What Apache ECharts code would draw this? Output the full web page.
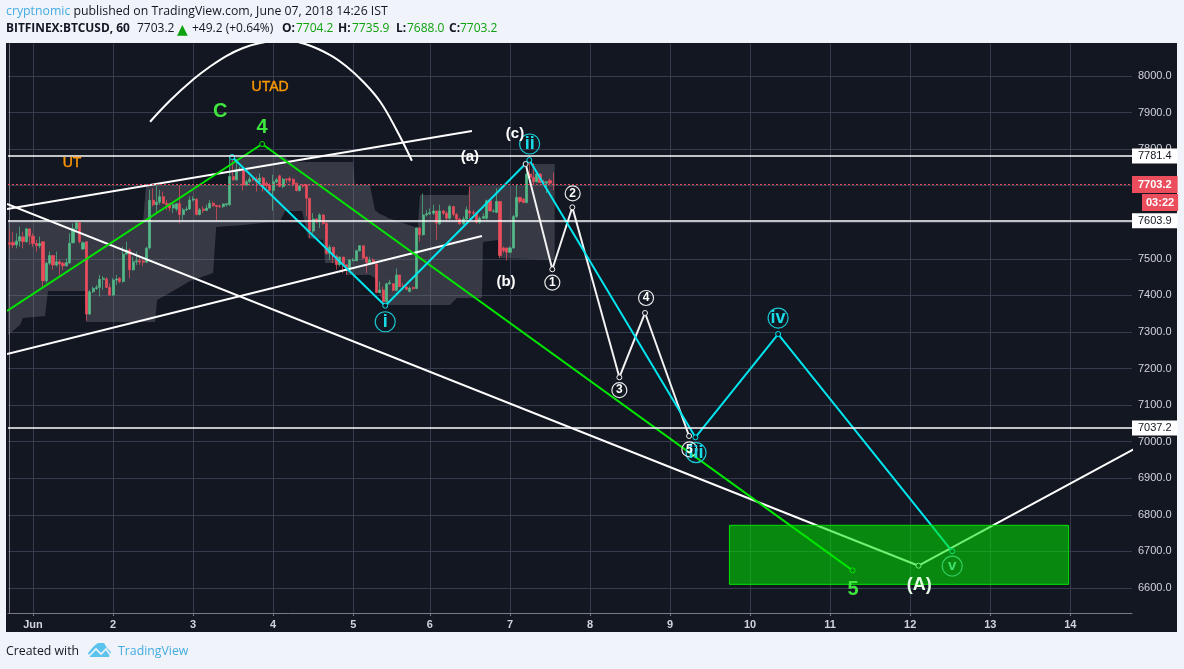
<!DOCTYPE html>
<html><head><meta charset="utf-8">
<style>
html,body{margin:0;padding:0;background:#f0f3fa;width:1184px;height:669px;overflow:hidden}
#panel{position:absolute;left:6px;top:43px;width:1171px;height:589px;background:#131722}
#c{position:absolute;left:0;top:0;width:1184px;height:669px}
</style>
<script src="https://cdn.jsdelivr.net/npm/echarts@6/dist/echarts.min.js"></script>
</head><body><div id="panel"></div><div id="c"></div>
<script>
// Candles, hourly: [open, close, low, high]
const ohlc = [
[7544,7540,7529,7579],[7545,7538,7529,7574],[7538,7549,7529,7570],[7549,7561,7533,7588],[7560,7547,7529,7574],
[7547,7582,7544,7583],[7582,7562,7538,7583],[7562,7542,7533,7570],[7542,7536,7520,7551],[7536,7542,7529,7561],
[7547,7440,7420,7547],[7440,7488,7433,7492],[7488,7509,7483,7520],[7509,7483,7470,7511],[7483,7492,7479,7520],
[7492,7486,7456,7497],[7488,7481,7470,7492],[7481,7490,7479,7501],[7489,7543,7486,7570],[7544,7582,7542,7597],
[7582,7599,7578,7602],[7599,7547,7542,7600],[7527,7544,7524,7548],[7547,7349,7331,7548],[7349,7410,7347,7415],
[7410,7419,7406,7424],[7419,7422,7415,7429],[7422,7444,7397,7456],[7444,7447,7415,7453],[7445,7422,7420,7450],
[7422,7401,7399,7433],[7401,7442,7399,7447],[7442,7445,7429,7456],[7447,7438,7433,7450],[7438,7513,7435,7533],
[7513,7524,7510,7547],[7524,7470,7447,7529],[7470,7492,7468,7506],[7492,7495,7483,7520],[7495,7491,7483,7501],
[7494,7491,7480,7499],[7491,7529,7488,7533],[7530,7660,7526,7689],[7660,7648,7643,7693],[7648,7655,7625,7702],
[7655,7670,7648,7689],[7670,7652,7650,7684],[7652,7648,7634,7661],[7651,7639,7630,7652],[7639,7648,7625,7652],
[7636,7651,7630,7652],[7651,7621,7596,7702],[7621,7634,7607,7639],[7634,7636,7630,7643],[7636,7661,7634,7671],
[7661,7664,7657,7671],[7663,7621,7619,7666],[7621,7634,7619,7639],[7636,7632,7625,7643],[7632,7639,7631,7648],
[7639,7652,7637,7661],[7652,7645,7643,7657],[7646,7643,7605,7648],[7645,7643,7639,7648],[7643,7650,7639,7652],
[7648,7651,7643,7652],[7648,7725,7645,7780],[7725,7716,7714,7780],[7716,7743,7714,7771],[7743,7745,7739,7752],
[7745,7702,7687,7746],[7702,7711,7700,7716],[7711,7718,7707,7725],[7718,7716,7712,7721],[7718,7711,7684,7725],
[7711,7721,7707,7734],[7721,7700,7684,7725],[7707,7700,7693,7712],[7702,7687,7684,7707],[7687,7711,7632,7730],
[7711,7716,7707,7721],[7727,7698,7696,7730],[7698,7718,7693,7721],[7718,7716,7707,7721],[7720,7714,7707,7725],
[7718,7705,7698,7720],[7707,7687,7684,7708],[7687,7699,7684,7702],[7702,7699,7693,7705],[7702,7666,7616,7704],
[7666,7576,7556,7666],[7576,7609,7570,7625],[7609,7602,7597,7611],[7602,7620,7584,7625],[7620,7597,7593,7622],
[7597,7515,7511,7602],[7515,7532,7497,7538],[7532,7508,7488,7532],[7508,7484,7470,7511],[7484,7505,7479,7506],
[7505,7484,7461,7505],[7484,7470,7456,7484],[7470,7497,7465,7499],[7495,7497,7493,7502],[7495,7522,7493,7525],
[7522,7536,7520,7538],[7536,7502,7499,7536],[7505,7490,7461,7506],[7490,7497,7484,7506],[7497,7488,7484,7502],
[7486,7408,7406,7488],[7408,7415,7406,7438],[7415,7383,7379,7424],[7383,7432,7381,7434],[7432,7435,7429,7443],
[7432,7414,7411,7434],[7414,7456,7411,7474],[7456,7424,7423,7456],[7426,7423,7415,7434],[7423,7417,7414,7424],
[7411,7420,7408,7424],[7422,7419,7415,7424],[7419,7584,7417,7586],[7584,7566,7547,7588],[7566,7620,7563,7679],
[7620,7623,7616,7634],[7623,7627,7620,7638],[7625,7631,7620,7648],[7631,7598,7552,7631],[7596,7631,7593,7648],
[7631,7625,7620,7634],[7625,7611,7602,7630],[7611,7643,7607,7648],[7643,7621,7616,7645],[7621,7609,7602,7625],
[7609,7596,7593,7611],[7596,7609,7593,7616],[7609,7634,7605,7643],[7631,7625,7611,7698],[7627,7625,7620,7634],
[7625,7600,7596,7627],[7600,7611,7596,7616],[7611,7616,7609,7625],[7611,7659,7607,7662],[7659,7631,7630,7662],
[7630,7631,7627,7636],[7627,7657,7625,7693],[7657,7509,7502,7657],[7530,7522,7516,7534],[7530,7518,7496,7530],
[7518,7530,7516,7534],[7530,7616,7527,7620],[7616,7668,7611,7702],[7668,7657,7652,7670],[7663,7654,7652,7666],
[7654,7732,7652,7762],[7732,7723,7707,7766],[7723,7711,7702,7762],[7711,7732,7709,7739],[7732,7709,7707,7734],
[7711,7709,7705,7716],[7707,7711,7680,7711],[7714,7707,7702,7720],[7704.2,7703.2,7688,7735.9]
];
const barCount = 337;

// Time axis (value = bar number)
const dayTicks  = [7,31,55,79,103,126,150,174,198,222,246,270,294,318];
const dayLabels = ['Jun','2','3','4','5','6','7','8','9','10','11','12','13','14'];

// Price axis
const priceTicks = [6600,6700,6800,6900,7000,7100,7200,7300,7400,7500,7600,7700,7800,7900,8000];
const priceMin = 6531.6, priceMax = 8087.5;

// Grey range band
const cloudBars = [-0.5,3.1,4,10.6,11.5,22.6,22.9,40,40.9,43.6,44.2,49,54.1,61,61.9,65.5,66.1,70,81.1,82.6,84.1,87.7,89.5,94,94.6,100.5,101.1,102.9,103.5,108,109.5,111,112.5,113.4,121.5,122.4,123,132,134.1,137.4,138,141.6,141.9,146.4,146.7,156,156.6,163.4];
const cloudLow  = [7291.8,7319,7338.3,7343.7,7412.1,7412.1,7327.3,7327.3,7327.3,7327.3,7387.5,7412.1,7439.4,7461.3,7587.1,7589.8,7589.8,7592.6,7603.5,7630.8,7630.8,7630.8,7557,7551.5,7488.6,7488.6,7455.8,7455.8,7455.8,7455.8,7447.6,7401.1,7373.8,7373.8,7373.8,7373.8,7373.8,7373.8,7392.9,7392.9,7392.9,7392.9,7546.1,7551.5,7502.3,7499.6,7499.6,7496.9];
const cloudHigh = [7600.8,7600.8,7600.8,7600.8,7600.8,7600.8,7600.8,7600.8,7701.9,7701.9,7701.9,7701.9,7701.9,7701.9,7701.9,7701.9,7778.5,7778.5,7778.5,7778.5,7764.8,7764.8,7764.8,7764.8,7764.8,7764.8,7764.8,7764.8,7701.9,7701.9,7633.6,7622.6,7617.2,7611.7,7587.1,7587.1,7674.6,7674.6,7674.6,7674.6,7699.2,7699.2,7699.2,7699.2,7699.2,7699.2,7759.4,7759.4];

// Drawn trend lines: [bar, price]
const upperChannel = [[-0.8,7636.3],[138.6,7849.6]];
const lowerChannel = [[-0.8,7239.8],[141.6,7562.5]];
const bigDiagonal  = [[-0.8,7650],[272.5,6660.9],[337.4,6981.4]];
const utadArc      = [[42.1,7875],[48.1,7933],[55,7990.4],[60.1,8026],[65.2,8056],[70,8076.6],[74.5,8088.9],[81.7,8098.4],[88.6,8087.5],[96.1,8057.4],[101.1,8025.4],[106,7984.4],[111.1,7929.7],[116,7852.3],[120.6,7768.4]];
const greenWave    = [[-0.8,7357.4],[75.7,7814],[252.7,6648.3]];
const cyanWave     = [[66.7,7778.5],[112.6,7371.9],[155.8,7770.3],[205.6,7012],[230.4,7294.5],[282.6,6700.3]];
const whiteWave    = [[154.7,7759.4],[162.7,7471.4],[168.7,7641],[182.8,7176],[190.5,7352],[203.7,7015.6]];

// Target box and price levels
const targetBox   = {bars:[215.8,317.5], prices:[6771.4,6610]};
const levels      = [7781.4,7603.9,7037.2];
const lastPrice   = 7703.2;
const countdown   = '03:22';

// Annotations: [bar, price, text]
const orangeNotes = [[18.7,7762,'UT'],[78.1,7970,'UTAD']];
const greenNotes  = [[63.1,7904,'C'],[75.7,7858,'4'],[252.9,6597,'5']];
const whiteNotes  = [[138,7778.5,'(a)'],[148.8,7437,'(b)'],[151.5,7841,'(c)']];
const bigWhiteNotes = [[272.7,6608,'(A)']];
const cyanCircled = [[112.6,7328,'i'],[155.9,7814,'ii'],[205.8,6970,'iii'],[230.4,7338,'iv']];
const greenCircled = [[282.6,6660,'v']];
const whiteCircled = [[162.7,7435,'1'],[168.8,7679,'2'],[182.8,7141,'3'],[190.8,7393,'4'],[203.8,6979,'5']];

// Header / footer text
const author = 'cryptnomic', published = ' published on TradingView.com, June 07, 2018 14:26 IST';
const symbolText = 'BITFINEX:BTCUSD, 60', lastText = '7703.2', changeText = '+49.2 (+0.64%)';
const oText='7704.2', hText='7735.9', lText='7688.0', cText='7703.2';

const UP='#53b987', DOWN='#eb4d5c', BG='#131722', GRID='#363c4e', AXIS='#787b86', LABEL='#d1d4dc';
const CYAN='#00e5ee', GREEN='#00e600', WHITE='#ffffff', NOTEGREEN='#3fe63f', ORANGE='#ff9800';
const FONT='"Liberation Sans",Arial,sans-serif', HF='"Open Sans",sans-serif';

const line=(name,data,color,extra)=>Object.assign({name,type:'line',xAxisIndex:1,yAxisIndex:0,data,z:3,
  lineStyle:{color,width:2},itemStyle:{color:BG,borderColor:color,borderWidth:1},symbol:'circle',symbolSize:5,
  showSymbol:true,showAllSymbol:true,animation:false,silent:true},extra||{});
const noSym={symbol:'none',showSymbol:false};
const notes=(name,data,color,size,weight,sym,circle,thicken)=>({name,type:'scatter',xAxisIndex:1,yAxisIndex:0,z:6,silent:true,
  data,symbol:'circle',symbolSize:sym||1,
  itemStyle:{opacity:1,color:'rgba(0,0,0,0)',borderColor:circle||'rgba(0,0,0,0)',borderWidth:circle?1.2:0},
  label:{show:true,position:'inside',formatter:p=>p.data[2],color,fontSize:size,fontWeight:weight,fontFamily:FONT,
    textBorderColor:thicken?color:'transparent',textBorderWidth:thicken||0},
  emphasis:{disabled:true}});
const hText2=(x,txt,fill,weight,size,font)=>({type:'text',left:x,top:23,z:20,style:{text:txt,fill,font:(weight?'bold ':'')+(size||12)+'px '+(font||HF)}});

const chart=echarts.init(document.getElementById('c'),null,{renderer:'canvas'});
chart.setOption({
  animation:false,backgroundColor:'transparent',tooltip:{show:false},
  grid:{left:8,top:44,width:1124,height:569,containLabel:false},
  xAxis:[
    {type:'category',data:Array.from({length:barCount},(_,i)=>i),show:false},
    {type:'value',min:-0.5,max:barCount-0.5,position:'bottom',
     axisLine:{show:true,onZero:false,lineStyle:{color:AXIS,width:1}},
     axisTick:{show:true,length:3,customValues:dayTicks,lineStyle:{color:AXIS}},
     axisLabel:{customValues:dayTicks,margin:6,color:LABEL,fontSize:11,fontWeight:'bold',fontFamily:FONT,
       hideOverlap:false,showMinLabel:true,showMaxLabel:true,
       formatter:v=>dayLabels[dayTicks.indexOf(v)]||''},
     splitLine:{show:true,lineStyle:{color:GRID,width:1}}}
  ],
  yAxis:[{type:'value',position:'right',min:priceMin,max:priceMax,
     axisLine:{show:true,lineStyle:{color:AXIS,width:1}},
     axisTick:{show:false,customValues:priceTicks},
     axisLabel:{customValues:priceTicks,margin:6,color:LABEL,fontSize:11,fontFamily:FONT,formatter:v=>v.toFixed(1)},
     splitLine:{show:true,lineStyle:{color:GRID,width:1}}}],
  series:[
    {name:'cloud',type:'custom',xAxisIndex:1,yAxisIndex:0,z:1,silent:true,clip:true,data:[[0,7500]],
     renderItem:(params,api)=>({type:'polygon',
       shape:{points:cloudBars.map((b,i)=>api.coord([b,cloudHigh[i]])).concat(cloudBars.map((b,i)=>api.coord([b,cloudLow[i]])).reverse())},
       style:{fill:'rgba(120,123,134,0.36)'}})},
    {name:'BTCUSD',type:'candlestick',xAxisIndex:0,yAxisIndex:0,z:2,silent:true,barWidth:2.6,data:ohlc,
     itemStyle:{color:UP,color0:DOWN,borderColor:'rgba(83,185,135,0.7)',borderColor0:'rgba(235,77,92,0.7)',borderColorDoji:UP,borderWidth:1}},
    line('upperChannel',upperChannel,WHITE,noSym),
    line('lowerChannel',lowerChannel,WHITE,noSym),
    line('bigDiagonal',bigDiagonal,WHITE,{symbolSize:(v,p)=>p.dataIndex===1?5:0}),
    line('utadArc',utadArc,WHITE,Object.assign({smooth:0.4},noSym)),
    line('greenWave',greenWave,GREEN,{symbolSize:(v,p)=>p.dataIndex===0?0:5}),
    line('whiteWave',whiteWave,'#f2f2f2'),
    line('cyanWave',cyanWave,CYAN),
    {name:'levels',type:'line',xAxisIndex:1,yAxisIndex:0,data:[],z:4,silent:true,
     markLine:{silent:true,symbol:'none',z:5,animation:false,
       lineStyle:{color:WHITE,width:1.5,type:'solid'},
       label:{show:true,position:'end',distance:0,formatter:p=>p.value.toFixed(1),color:BG,backgroundColor:WHITE,
         padding:[2,6,2,6],fontSize:11,fontFamily:FONT},
       data:levels.map(v=>({yAxis:v}))},
     markArea:{silent:true,z:4,animation:false,
       itemStyle:{color:'rgba(0,230,0,0.55)',borderColor:GREEN,borderWidth:1},
       data:[[{coord:[targetBox.bars[0],targetBox.prices[0]]},{coord:[targetBox.bars[1],targetBox.prices[1]]}]]}},
    {name:'last',type:'line',xAxisIndex:1,yAxisIndex:0,data:[],z:4,silent:true,
     markLine:{silent:true,symbol:'none',z:5,animation:false,
       lineStyle:{color:DOWN,width:1,type:[2,2]},
       label:{show:true,position:'end',distance:0,formatter:p=>p.value.toFixed(1),color:WHITE,backgroundColor:DOWN,
         padding:[3,6,3,6],fontSize:11,fontWeight:'bold',fontFamily:FONT},
       data:[{yAxis:lastPrice}]}},
    notes('orange',orangeNotes,ORANGE,14,'normal',null,null,0.4),
    notes('green',greenNotes,NOTEGREEN,20,'bold'),
    notes('white',whiteNotes,WHITE,15,'bold'),
    notes('whiteBig',bigWhiteNotes,'#e8ffe8',18,'bold'),
    notes('cyanC',cyanCircled,'#19dbe6',18,'bold',20,'#19c5cf'),
    notes('greenC',greenCircled,'#3fe06f',15,'bold',20,'#2fd05f'),
    notes('whiteC',whiteCircled,WHITE,12,'bold',15,'#e8e8e8')
  ],
  graphic:[
    {type:'text',left:6,top:5,z:20,style:{
      text:'{a|'+author+'}{b|'+published+'}',
      rich:{a:{fill:'#45ace0',font:'12.3px '+HF},b:{fill:'#131722',font:'12.3px '+HF}}}},
    hText2(6,symbolText,'#131722',true,11.9),
    hText2(137,lastText,'#131722',false),
    hText2(177,'▲','#0ea30e',false,14,'"DejaVu Sans"'),
    hText2(192,changeText,'#131722',false),
    hText2(282,'O:','#131722',true),
    hText2(296,oText,'#0ea30e',false),
    hText2(338,'H:','#131722',true),
    hText2(352,hText,'#0ea30e',false),
    hText2(396,'L:','#131722',true),
    hText2(407,lText,'#0ea30e',false),
    hText2(449,'C:','#131722',true),
    hText2(460,cText,'#0ea30e',false),
    {type:'text',left:1142,top:194,z:20,style:{
      text:countdown,fill:WHITE,font:'bold 11px '+FONT,backgroundColor:DOWN,padding:[3,4,3,4]}},
    {type:'text',left:6,top:645,z:20,style:{text:'Created with',fill:'#131722',font:'12.3px '+HF}},
    {type:'polygon',z:20,shape:{points:[[88,653],[94,646],[98,643],[104,643],[107,648],[111,652],[109,657],[90,657]]},style:{fill:'#5cc4ec'}},
    {type:'polyline',z:21,shape:{points:[[89,656],[96,649],[101,654],[106,649],[111,656]]},style:{stroke:'#f0f3fa',lineWidth:1.6,fill:'none'}},
    {type:'text',left:118,top:645,z:20,style:{text:'TradingView',fill:'#45ace0',font:'12.3px '+HF}}
  ]
});
</script></body></html>
